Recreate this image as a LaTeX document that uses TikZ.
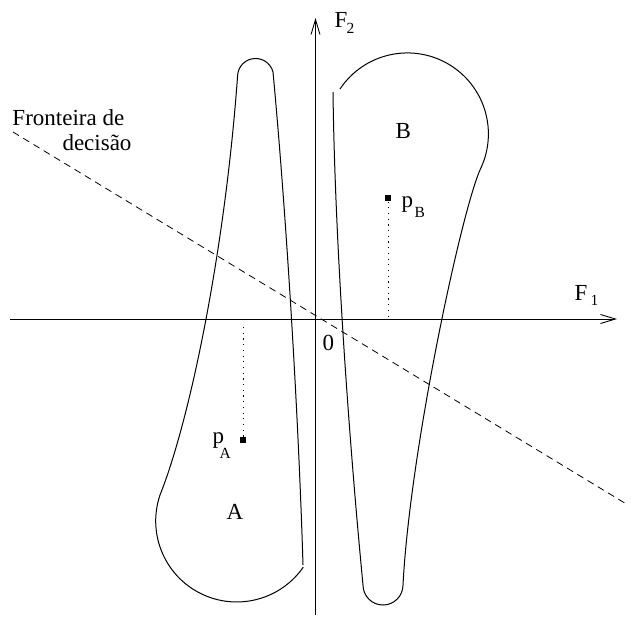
\documentclass[tikz,border=0pt]{standalone}
\usepackage{fontspec}
\setmainfont{Liberation Serif}
\usetikzlibrary{arrows.meta}
\begin{document}
\begin{tikzpicture}[x=1pt,y=1pt,yscale=-1,line width=1pt,
  lbl/.style={inner sep=0pt,anchor=base west,font=\fontsize{23}{27}\selectfont},
  sublbl/.style={inner sep=0pt,anchor=base west,font=\fontsize{15.5}{18}\selectfont},
  axis/.style={line width=0.9pt,-{Straight Barb[length=15pt,width=9pt]}},
  region/.style={line width=1pt},
  guide/.style={line width=1pt,dash pattern=on 1.2pt off 4.5pt},
  boundary/.style={line width=0.8pt,dash pattern=on 7pt off 5pt},
  ptmark/.style={fill,inner sep=0pt,minimum size=6pt}]
\useasboundingbox (0,0) rectangle (631,618);
% axes
\coordinate (xs) at (10,319);
\coordinate (xe) at (617,319);
\coordinate (ys) at (315.5,615);
\coordinate (ye) at (315.5,18);
\draw[axis] (xs) -- (xe);
\draw[axis] (ys) -- (ye);
% decision boundary
\coordinate (bs) at (13,132);
\coordinate (be) at (628,505);
\draw[boundary] (bs) -- (be);
% region A
\draw[region] (303,565) .. controls (298,400) and (285,200) .. (273,72)
  arc[start angle=-14.4,end angle=-178.5,radius=18pt]
  .. controls (225,250) and (190,420) .. (160,495)
  arc[start angle=198.7,end angle=34.7,radius=81pt];
% region B
\draw[region] (340,89) arc[start angle=-146.3,end angle=25,radius=81pt]
  .. controls (462,208) and (410,450) .. (403,585)
  arc[start angle=0,end angle=180,radius=20pt]
  .. controls (350,450) and (335,250) .. (333,92);
% points
\node[ptmark] (pA) at (243,440) {};
\node[ptmark] (pB) at (388,198) {};
\coordinate (pAx) at (243,323);
\coordinate (pBx) at (388,318);
\draw[guide] (pA) -- (pAx);
\draw[guide] (pB) -- (pBx);
% labels
\node[lbl] (fr1) at (12,125) {Fronteira de};
\node[lbl] (fr2) at (62,150) {decisão};
\node[lbl] (f2) at (334,28) {F};
\node[sublbl] (f2s) at (346,34) {2};
\node[lbl] (f1) at (574,300) {F};
\node[sublbl] (f1s) at (590,305) {1};
\node[lbl] (zero) at (322,350) {0};
\node[lbl] (labB) at (395,138) {B};
\node[lbl] (labA) at (226,519) {A};
\node[lbl] (pAl) at (212,443) {p};
\node[sublbl] (pAs) at (219,458) {A};
\node[lbl] (pBl) at (401,207) {p};
\node[sublbl] (pBs) at (414,217) {B};
\end{tikzpicture}
\end{document}
